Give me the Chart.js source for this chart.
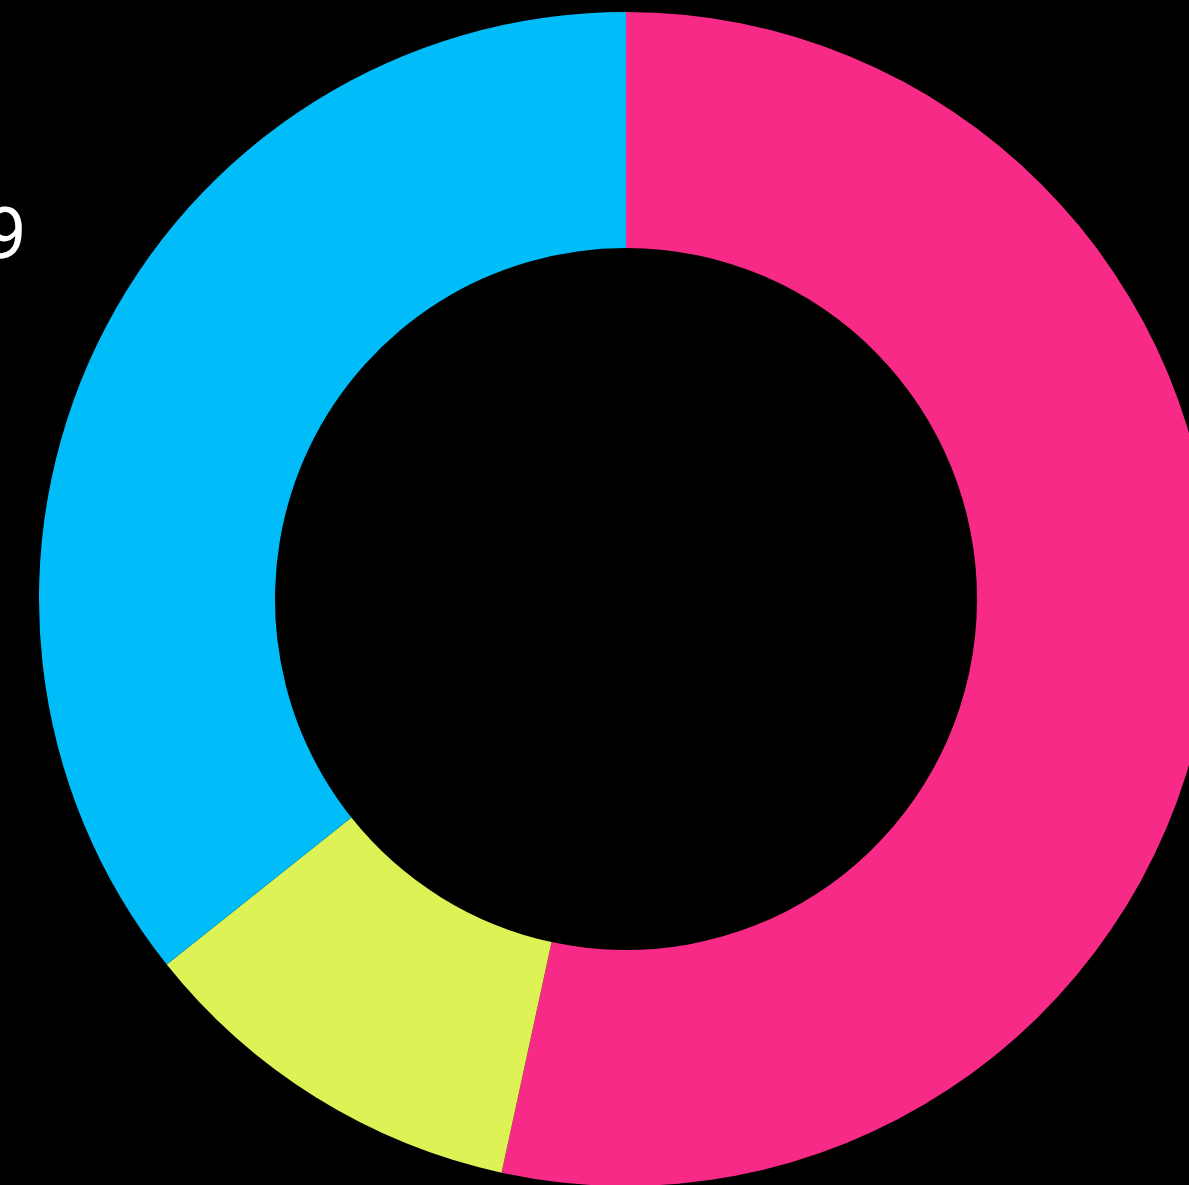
<!DOCTYPE html>
<html>
<head>
<meta charset="utf-8">
<script src="https://cdn.jsdelivr.net/npm/chart.js@4/dist/chart.umd.min.js"></script>
<style>
  html, body { margin: 0; padding: 0; background: #000; overflow: hidden; width: 1189px; height: 1185px; }
  #wrap { position: absolute; left: 0; top: 0; width: 1252px; height: 1198px; }
  #label { position: absolute; left: -14px; top: 199px; color: #fff; font-family: Roboto, sans-serif; font-weight: 400; font-size: 72px; line-height: 72px; }
</style>
</head>
<body>
<div id="wrap"><canvas id="donut" width="1252" height="1198"></canvas></div>
<div id="label">9</div>
<script>
const labels = ['Pink', 'Yellow', 'Blue'];
const values = [53.4, 10.9, 35.7];
const colors = ['#f72a87', '#dcf255', '#00bdf9'];

const ctx = document.getElementById('donut').getContext('2d');
new Chart(ctx, {
    type: 'doughnut',
    data: {
        labels: labels,
        datasets: [{
            data: values,
            backgroundColor: colors,
            borderWidth: 0
        }]
    },
    options: {
        responsive: false,
        animation: false,
        devicePixelRatio: 1,
        cutout: '59.8%',
        layout: { padding: 12 },
        plugins: { legend: { display: false }, tooltip: { enabled: false } }
    }
});
</script>
</body>
</html>
